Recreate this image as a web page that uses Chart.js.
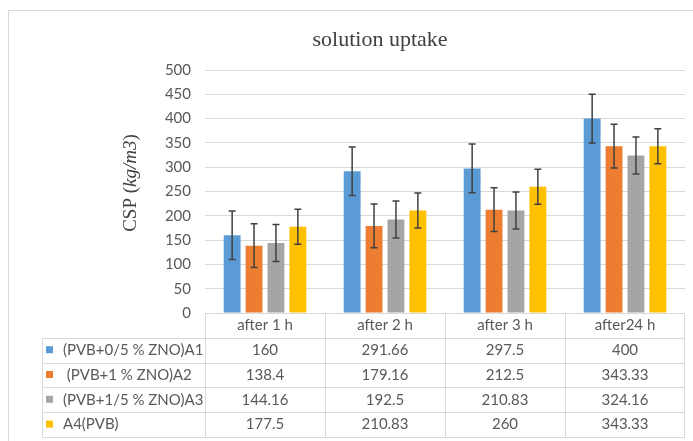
<!DOCTYPE html>
<html>
<head>
<meta charset="utf-8">
<script src="https://cdn.jsdelivr.net/npm/chart.js@4"></script>
<style>
  html, body { margin: 0; padding: 0; background: #fff; }
  #wrap { width: 693px; height: 441px; position: relative; }
</style>
</head>
<body>
<div id="wrap"><canvas id="myChart"></canvas></div>
<script>
const categories = ['after 1 h', 'after 2 h', 'after 3 h', 'after24 h'];
const seriesNames = ['(PVB+0/5 % ZNO)A1', ' (PVB+1 % ZNO)A2', '(PVB+1/5 % ZNO)A3', 'A4(PVB)'];
const a1Values = [160, 291.66, 297.5, 400];
const a2Values = [138.4, 179.16, 212.5, 343.33];
const a3Values = [144.16, 192.5, 210.83, 324.16];
const a4Values = [177.5, 210.83, 260, 343.33];
const errorValues = [50, 45, 38, 36]; // one error size per series
const yTicks = [0, 50, 100, 150, 200, 250, 300, 350, 400, 450, 500];

const colors = ['#5B9BD5', '#ED7D31', '#A5A5A5', '#FFC000'];
const textGray = '#595959';
const gridGray = '#D9D9D9';
const sans = 'Lato, "Open Sans", sans-serif';
const serif = '"Liberation Serif", "DejaVu Serif", serif';

const seriesValues = [a1Values, a2Values, a3Values, a4Values];

// frame, title and rotated y title
const framePlugin = {
  id: 'frame',
  beforeDraw(chart) {
    const { ctx } = chart;
    ctx.save();
    ctx.fillStyle = '#fff';
    ctx.fillRect(0, 0, chart.width, chart.height);
    ctx.strokeStyle = gridGray;
    ctx.lineWidth = 1;
    ctx.strokeRect(8.5, 10.5, chart.width + 10, chart.height + 10);
    ctx.restore();
  },
  afterDraw(chart) {
    const { ctx } = chart;
    ctx.save();
    ctx.fillStyle = '#404040';
    ctx.font = `22px ${serif}`;
    ctx.textAlign = 'center';
    ctx.textBaseline = 'middle';
    ctx.fillText('solution uptake', 380, 40);

    // y axis title: CSP (kg/m3) with italic unit
    const parts = [
      { t: 'CSP (', f: `19px ${serif}` },
      { t: 'kg/m3', f: `italic 19px ${serif}` },
      { t: ')', f: `19px ${serif}` },
    ];
    let total = 0;
    parts.forEach((p) => { ctx.font = p.f; p.w = ctx.measureText(p.t).width; total += p.w; });
    ctx.translate(131, 183);
    ctx.rotate(-Math.PI / 2);
    ctx.textAlign = 'left';
    let x = -total / 2;
    parts.forEach((p) => { ctx.font = p.f; ctx.fillText(p.t, x, 0); x += p.w; });
    ctx.restore();
  },
};

// error bars on every bar
const errorBarPlugin = {
  id: 'errorBars',
  afterDatasetsDraw(chart) {
    const { ctx } = chart;
    const yScale = chart.scales.y;
    ctx.save();
    ctx.strokeStyle = '#404040';
    ctx.lineWidth = 1.5;
    chart.data.datasets.forEach((ds, di) => {
      const meta = chart.getDatasetMeta(di);
      meta.data.forEach((bar, i) => {
        const v = ds.data[i];
        const top = yScale.getPixelForValue(v + errorValues[di]);
        const bot = yScale.getPixelForValue(v - errorValues[di]);
        ctx.beginPath();
        ctx.moveTo(bar.x, top);
        ctx.lineTo(bar.x, bot);
        ctx.moveTo(bar.x - 3.5, top);
        ctx.lineTo(bar.x + 3.5, top);
        ctx.moveTo(bar.x - 3.5, bot);
        ctx.lineTo(bar.x + 3.5, bot);
        ctx.stroke();
      });
    });
    ctx.restore();
  },
};

// data table under the plot, columns from the x scale
const tablePlugin = {
  id: 'dataTable',
  afterDraw(chart) {
    const { ctx, chartArea } = chart;
    const xScale = chart.scales.x;
    const half = (xScale.getPixelForValue(1) - xScale.getPixelForValue(0)) / 2;
    const rowH = 24.8;
    const top = chartArea.bottom;
    const left = 42;
    const right = chartArea.right;
    const bottom = top + rowH * (seriesNames.length + 1);
    ctx.save();
    ctx.strokeStyle = gridGray;
    ctx.lineWidth = 1;
    ctx.beginPath();
    // horizontal lines
    ctx.moveTo(chartArea.left, Math.round(top) + 0.5);
    ctx.lineTo(right, Math.round(top) + 0.5);
    for (let r = 1; r <= seriesNames.length + 1; r++) {
      const y = Math.round(top + r * rowH) + 0.5;
      ctx.moveTo(left, y);
      ctx.lineTo(right, y);
    }
    // vertical lines
    ctx.moveTo(left + 0.5, top + rowH);
    ctx.lineTo(left + 0.5, bottom);
    categories.forEach((c, i) => {
      const x = Math.round(xScale.getPixelForValue(i) - half) + 0.5;
      ctx.moveTo(x, top);
      ctx.lineTo(x, bottom);
    });
    ctx.moveTo(Math.round(right) - 0.5, top);
    ctx.lineTo(Math.round(right) - 0.5, bottom);
    ctx.stroke();

    ctx.font = `15px ${sans}`;
    ctx.fillStyle = textGray;
    ctx.textBaseline = 'middle';
    ctx.textAlign = 'center';
    categories.forEach((c, i) => {
      ctx.fillText(c, xScale.getPixelForValue(i), top + rowH / 2);
    });
    seriesNames.forEach((name, s) => {
      const yc = top + rowH * (s + 1.5);
      ctx.fillStyle = colors[s];
      ctx.fillRect(46, yc - 4, 7, 7);
      ctx.fillStyle = textGray;
      ctx.textAlign = 'left';
      ctx.fillText(name, 63, yc);
      ctx.textAlign = 'center';
      seriesValues[s].forEach((v, i) => {
        ctx.fillText(String(v), xScale.getPixelForValue(i), yc);
      });
    });
    ctx.restore();
  },
};

const data = {
  labels: categories,
  datasets: seriesNames.map((name, s) => ({
    label: name,
    data: seriesValues[s],
    backgroundColor: colors[s],
    categoryPercentage: 0.73,
    barPercentage: 0.77,
  })),
};

const config = {
  type: 'bar',
  data,
  options: {
    responsive: true,
    maintainAspectRatio: false,
    animation: false,
    layout: { padding: { top: 70, right: 8, bottom: 128, left: 0 } },
    plugins: { legend: { display: false }, tooltip: { enabled: false }, title: { display: false } },
    scales: {
      x: {
        display: false,
      },
      y: {
        min: 0,
        max: 500,
        afterBuildTicks(scale) { scale.ticks = yTicks.map((v) => ({ value: v })); },
        afterFit(scale) { scale.width = 205; },
        ticks: { color: textGray, font: { family: sans, size: 15 }, padding: 14 },
        grid: { color: gridGray, drawTicks: false },
        border: { display: false },
      },
    },
  },
  plugins: [framePlugin, errorBarPlugin, tablePlugin],
};

const myChart = new Chart(document.querySelector('#myChart'), config);
</script>
</body>
</html>
